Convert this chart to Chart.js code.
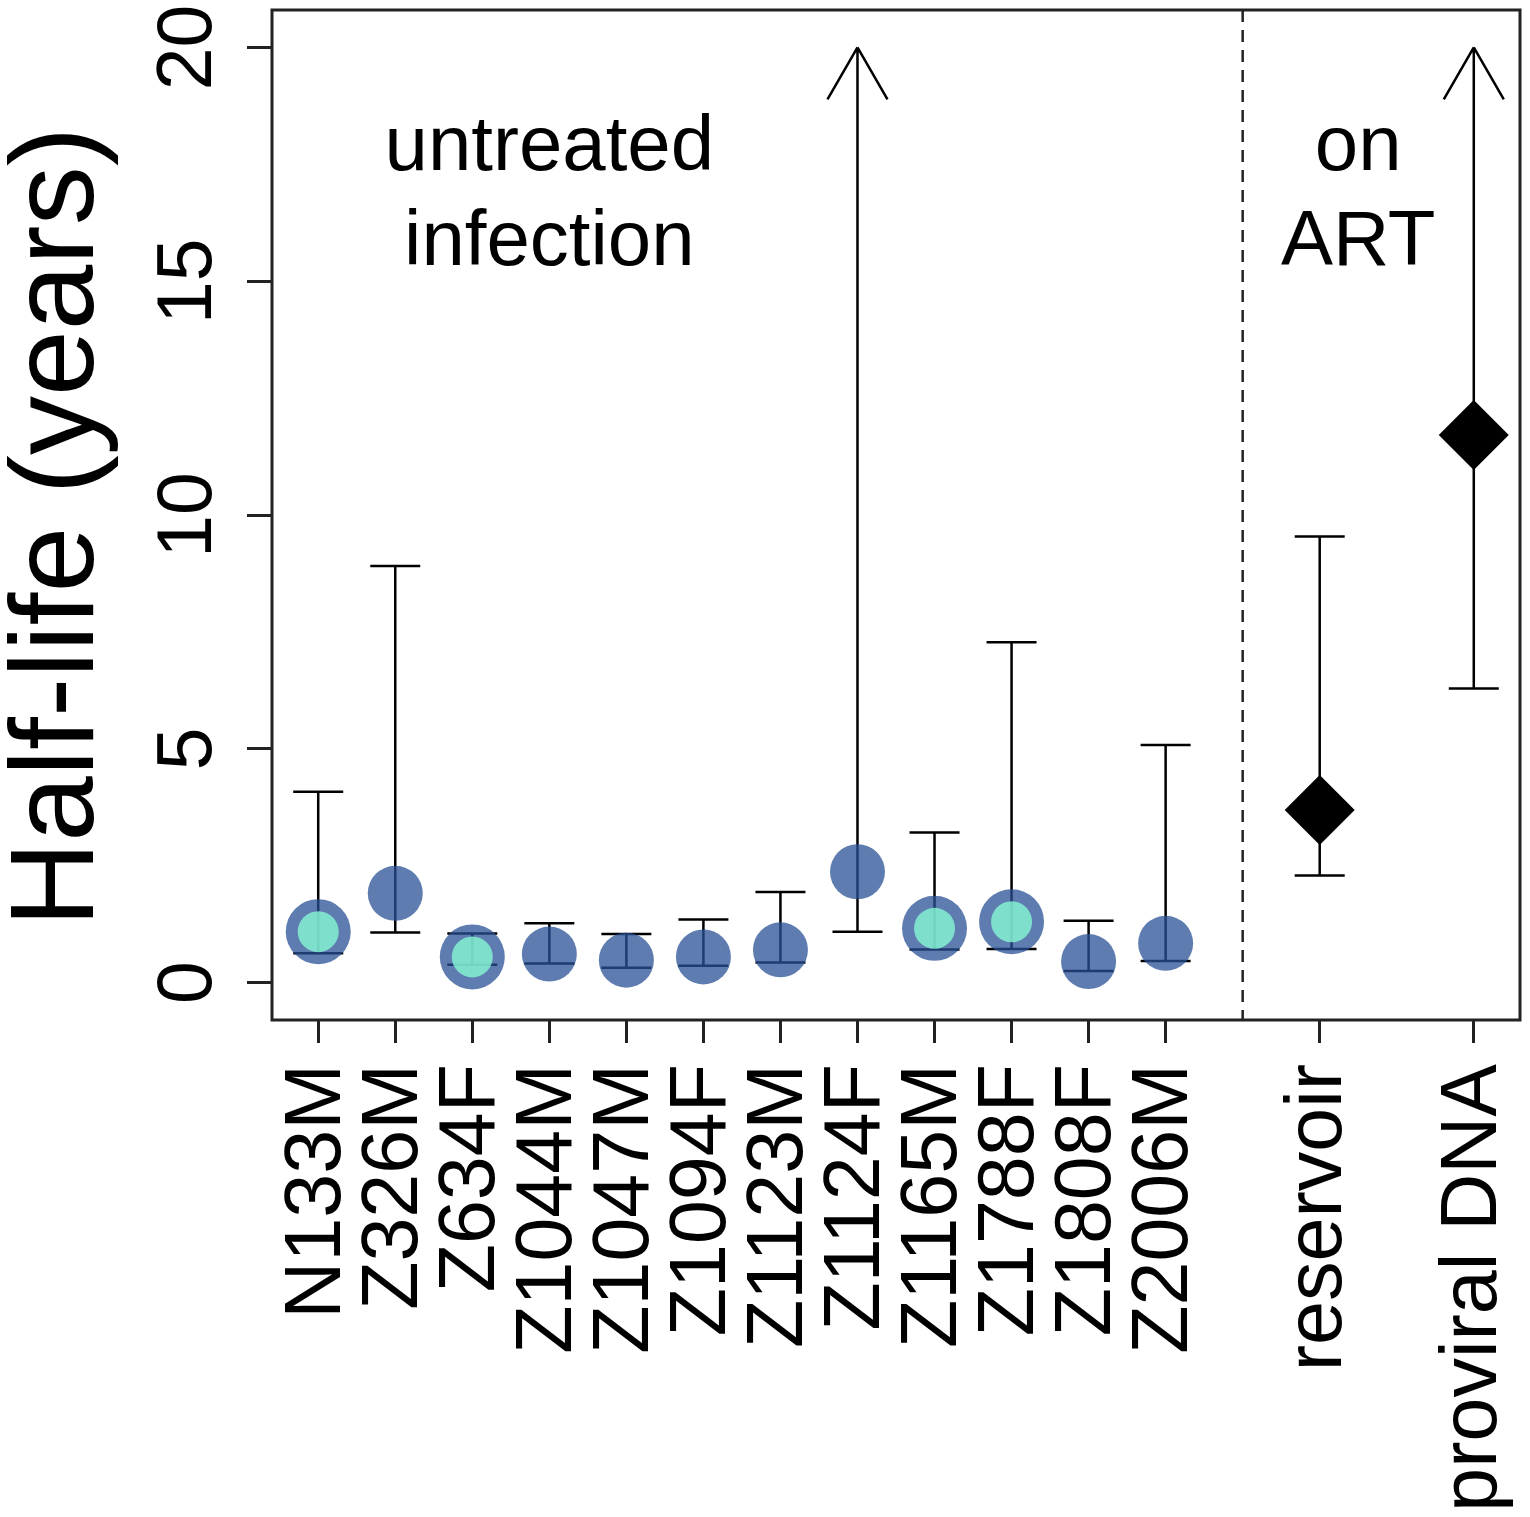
<!DOCTYPE html>
<html>
<head>
<meta charset="utf-8">
<title>Half-life (years)</title>
<script src="https://cdn.jsdelivr.net/npm/chart.js@4.4.1/dist/chart.umd.min.js"></script>
<style>
  html, body { margin: 0; padding: 0; background: #fff; }
  canvas { display: block; }
</style>
</head>
<body>
<canvas id="halfLifeChart" width="1530" height="1517"></canvas>
<script>
// untreated infection, one entry per animal
const subjects = ['N133M', 'Z326M', 'Z634F', 'Z1044M', 'Z1047M', 'Z1094F',
                  'Z1123M', 'Z1124F', 'Z1165M', 'Z1788F', 'Z1808F', 'Z2006M'];
const halfLife = [1.09, 1.91, 0.55, 0.61, 0.48, 0.55, 0.70, 2.37, 1.16, 1.30, 0.45, 0.84];
const lowerCI  = [0.63, 1.07, 0.38, 0.41, 0.32, 0.36, 0.43, 1.09, 0.71, 0.72, 0.25, 0.46];
const upperCI  = [4.08, 8.91, 1.05, 1.27, 1.04, 1.35, 1.94, 20, 3.21, 7.28, 1.32, 5.08];
const highlighted = ['N133M', 'Z634F', 'Z1165M', 'Z1788F'];

// on ART
const artLabels = ['reservoir', 'proviral DNA'];
const artHalfLife = [3.69, 11.71];
const artLower = [2.29, 6.29];
const artUpper = [9.54, 20];
const artPos = [14, 16];

// intervals that run off the top of the plot get an arrow instead of a cap
const openEnded = ['Z1124F', 'proviral DNA'];
const yTicks = [0, 5, 10, 15, 20];
const yTitle = 'Half-life (years)';

const FONT = "'Liberation Sans', Arial, Helvetica, sans-serif";

const subjectPos = subjects.map((s, i) => i + 1);
const tickPos = subjectPos.concat(artPos);
const tickNames = subjects.concat(artLabels);
const allLow = lowerCI.concat(artLower);
const allHigh = upperCI.concat(artUpper);

const notes = [
    { text: 'untreated', x: 4, y: 17.38 },
    { text: 'infection', x: 4, y: 15.35 },
    { text: 'on', x: 14.5, y: 17.38 },
    { text: 'ART', x: 14.5, y: 15.35 }
];

const extrasPlugin = {
    id: 'extras',
    beforeDatasetsDraw(chart) {
        const { ctx, chartArea, scales: { x, y } } = chart;
        ctx.save();

        // divider between the two groups
        const xd = x.getPixelForValue(13);
        ctx.strokeStyle = '#222';
        ctx.lineWidth = 2.5;
        ctx.setLineDash([12, 8]);
        ctx.beginPath();
        ctx.moveTo(xd, chartArea.top);
        ctx.lineTo(xd, chartArea.bottom);
        ctx.stroke();
        ctx.setLineDash([]);

        // confidence intervals
        ctx.strokeStyle = '#000';
        ctx.lineWidth = 2.5;
        tickNames.forEach((name, i) => {
            const px = x.getPixelForValue(tickPos[i]);
            const pLow = y.getPixelForValue(allLow[i]);
            const pHigh = y.getPixelForValue(allHigh[i]);
            ctx.beginPath();
            ctx.moveTo(px, pLow);
            ctx.lineTo(px, pHigh);
            ctx.moveTo(px - 25, pLow);
            ctx.lineTo(px + 25, pLow);
            if (openEnded.includes(name)) {
                ctx.moveTo(px, pHigh);
                ctx.lineTo(px - 30, pHigh + 52);
                ctx.moveTo(px, pHigh);
                ctx.lineTo(px + 30, pHigh + 52);
            } else {
                ctx.moveTo(px - 25, pHigh);
                ctx.lineTo(px + 25, pHigh);
            }
            ctx.stroke();
        });
        ctx.restore();
    },
    afterDatasetsDraw(chart) {
        const { ctx, scales: { x, y } } = chart;
        ctx.save();
        ctx.fillStyle = '#000';
        ctx.font = '78px ' + FONT;
        ctx.textAlign = 'center';
        ctx.textBaseline = 'alphabetic';
        notes.forEach(n => {
            ctx.fillText(n.text, x.getPixelForValue(n.x), y.getPixelForValue(n.y));
        });
        ctx.restore();
    },
    afterDraw(chart) {
        const { ctx, chartArea: a } = chart;
        ctx.save();
        ctx.strokeStyle = '#222';
        ctx.lineWidth = 3;
        ctx.strokeRect(a.left, a.top, a.right - a.left, a.bottom - a.top);

        // y axis title, sits a little below the middle of the axis like in R
        ctx.translate(60, (a.top + a.bottom) / 2 + 12);
        ctx.rotate(-Math.PI / 2);
        ctx.fillStyle = '#000';
        ctx.font = '118px ' + FONT;
        ctx.textAlign = 'center';
        ctx.textBaseline = 'middle';
        ctx.fillText(yTitle, 0, 0);
        ctx.restore();
    }
};

const ctx = document.getElementById('halfLifeChart').getContext('2d');
const halfLifeChart = new Chart(ctx, {
    type: 'scatter',
    data: {
        datasets: [{
            label: 'highlighted',
            data: subjects.map((s, i) => ({ x: i + 1, y: halfLife[i] }))
                          .filter((p, i) => highlighted.includes(subjects[i])),
            pointRadius: 20.5,
            backgroundColor: 'rgba(135, 245, 212, 0.82)',
            borderWidth: 0,
            order: 0
        }, {
            label: 'untreated infection',
            data: subjects.map((s, i) => ({ x: i + 1, y: halfLife[i] })),
            pointRadius: subjects.map(s => highlighted.includes(s) ? 32.5 : 27.5),
            backgroundColor: 'rgba(40, 80, 150, 0.75)',
            borderWidth: 0,
            order: 1
        }, {
            label: 'on ART',
            data: artPos.map((p, i) => ({ x: p, y: artHalfLife[i] })),
            pointStyle: 'rectRot',
            pointRadius: 35,
            backgroundColor: '#000',
            borderWidth: 0,
            order: 2
        }]
    },
    options: {
        responsive: false,
        animation: false,
        events: [],
        layout: { autoPadding: false, padding: { top: 10, right: 10, left: 0, bottom: 0 } },
        plugins: {
            legend: { display: false },
            tooltip: { enabled: false }
        },
        scales: {
            x: {
                type: 'linear',
                min: 0.4,
                max: 16.6,
                bounds: 'data',
                afterBuildTicks: s => { s.ticks = tickPos.map(v => ({ value: v })); },
                afterFit: s => { s.height = 497; s.paddingLeft = 0; s.paddingRight = 0; },
                grid: { drawOnChartArea: false, drawTicks: true, tickLength: 23, tickWidth: 3, tickColor: '#222' },
                border: { display: false },
                ticks: {
                    autoSkip: false,
                    minRotation: 90,
                    maxRotation: 90,
                    padding: 21,
                    color: '#000',
                    font: { family: FONT, size: 79 },
                    callback: (v, i) => tickNames[i]
                }
            },
            y: {
                type: 'linear',
                min: -0.8,
                max: 20.8,
                bounds: 'data',
                afterBuildTicks: s => { s.ticks = yTicks.map(v => ({ value: v })); },
                afterFit: s => { s.width = 272; s.paddingTop = 0; s.paddingBottom = 0; },
                grid: { drawOnChartArea: false, drawTicks: true, tickLength: 25, tickWidth: 3, tickColor: '#222' },
                border: { display: false },
                ticks: {
                    minRotation: 90,
                    maxRotation: 90,
                    crossAlign: 'center',
                    padding: 14,
                    color: '#000',
                    font: { family: FONT, size: 77 },
                    callback: (v, i) => String(yTicks[i])
                }
            }
        }
    },
    plugins: [extrasPlugin]
});
</script>
</body>
</html>
